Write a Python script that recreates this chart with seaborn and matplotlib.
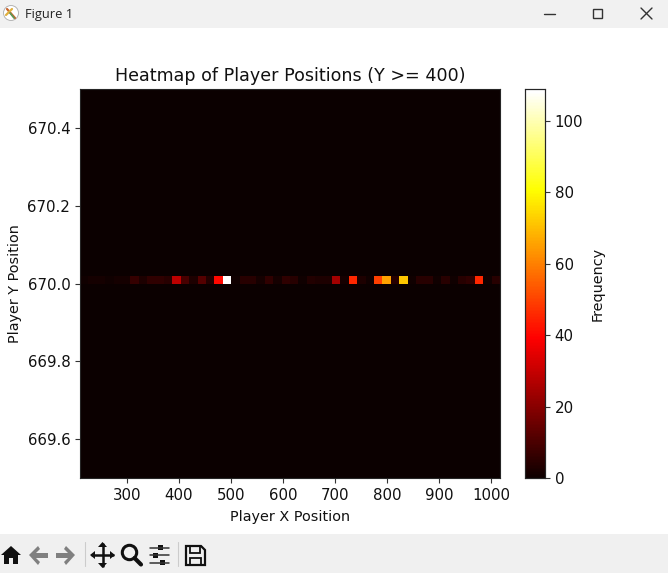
import numpy as np
import pandas as pd
import matplotlib
matplotlib.use("Agg")
import matplotlib.pyplot as plt
from matplotlib.patches import Circle, Polygon, Rectangle
import seaborn as sns

# counts per x bin, all of them in the single row at y = 670
frequency = [1, 2, 2, 1, 2, 2, 7, 3, 6, 6,
             5, 29, 10, 3, 12, 4, 41, 109, 1, 5,
             5, 2, 6, 2, 6, 5, 1, 4, 3, 3,
             25, 2, 46, 3, 1, 50, 66, 5, 72, 1,
             5, 5, 1, 5, 1, 5, 6, 46, 1, 5]
player_y = 670.0
x_range = (210, 1017)
y_range = (669.5, 670.5)
x_ticks = [300, 400, 500, 600, 700, 800, 900, 1000]
y_ticks = [669.6, 669.8, 670.0, 670.2, 670.4]
cbar_ticks = [0, 20, 40, 60, 80, 100]

W, H = 668, 573
edges = np.linspace(x_range[0], x_range[1], len(frequency) + 1)
df = pd.DataFrame({
    "x": (edges[:-1] + edges[1:]) / 2,
    "y": player_y,
    "count": frequency,
})

sns.set_style("ticks")
plt.rcParams["font.family"] = "DejaVu Sans"
plt.rcParams["text.color"] = "#111111"
plt.rcParams["axes.labelcolor"] = "#111111"
plt.rcParams["xtick.labelcolor"] = "#111111"
plt.rcParams["ytick.labelcolor"] = "#111111"

fig = plt.figure(figsize=(W / 100, H / 100), dpi=100)


def box(left, top, right, bottom):
    return [left / W, 1 - bottom / H, (right - left) / W, (bottom - top) / H]


ax = fig.add_axes(box(80, 89, 500, 478))
cax = fig.add_axes(box(525, 89, 545, 478))

sns.histplot(data=df, x="x", y="y", weights="count", bins=50,
             binrange=(x_range, y_range), thresh=None, cmap="hot",
             vmin=0, vmax=max(frequency), cbar=True, cbar_ax=cax,
             cbar_kws={"ticks": cbar_ticks}, ax=ax)
ax.set_xlim(x_range)
ax.set_ylim(y_range)
ax.set_xticks(x_ticks)
ax.set_yticks(y_ticks)
ax.set_yticklabels([f"{t:.1f}" for t in y_ticks])
ax.tick_params(labelsize=10.8, length=3.5, width=0.8, color="#333333")
cax.tick_params(labelsize=10.8, length=3.5, width=0.8, color="#333333")
ax.set_title("Heatmap of Player Positions (Y >= 400)", fontsize=12.6, pad=6)
ax.set_xlabel("Player X Position", fontsize=10.4, labelpad=5.5)
ax.set_ylabel("Player Y Position", fontsize=10.4, labelpad=4)
cax.set_ylabel("Frequency", fontsize=10.4, labelpad=5)
for spine in ax.spines.values():
    spine.set_visible(True)
    spine.set_linewidth(0.8)
cax.collections[-1].set_edgecolor("face")
for spine in cax.spines.values():
    spine.set_visible(True)
    spine.set_linewidth(0.8)

# window frame around the plot, in pixel coordinates
ui = fig.add_axes([0, 0, 1, 1], zorder=-1)
ui.set_xlim(0, W)
ui.set_ylim(H, 0)
ui.axis("off")
ui.add_patch(Rectangle((0, 0), W, 28, color="#f1f1f1", lw=0))
ui.add_patch(Rectangle((0, 534), W, 39, color="#f0f0f0", lw=0))
ui.text(25, 14.5, "Figure 1", fontsize=9.3, va="center", color="#222222",
        family="Open Sans")

# app icon
ui.add_patch(Circle((11, 13), 7.5, fc="white", ec="#b5b5b5", lw=0.7))
ui.plot([7, 15], [9, 18], color="#c8632c", lw=1.6)
ui.plot([6, 12], [15, 9], color="#e0b040", lw=1.6)
ui.plot([10, 14], [13, 18], color="#5a9a58", lw=1.2)

# window buttons
ui.plot([544, 555], [13.5, 13.5], color="#333333", lw=1)
ui.add_patch(Rectangle((592.5, 8.5), 9.5, 9.5, fc="none", ec="#333333", lw=1))
ui.plot([641, 652], [8, 19], color="#333333", lw=1)
ui.plot([641, 652], [19, 8], color="#333333", lw=1)

# toolbar icons
ink = "#111111"
grey = "#808080"
ui.add_patch(Polygon([(1, 555), (11, 546), (21, 555), (18, 555), (18, 564),
                      (13, 564), (13, 558), (9, 558), (9, 564), (4, 564), (4, 555)],
                     fc=ink, lw=0))
ui.add_patch(Polygon([(29, 555), (38, 546), (40, 549), (36, 553), (48, 553),
                      (48, 558), (36, 558), (40, 562), (38, 565)], fc=grey, lw=0))
ui.add_patch(Polygon([(75, 555), (66, 546), (64, 549), (68, 553), (56, 553),
                      (56, 558), (68, 558), (64, 562), (66, 565)], fc=grey, lw=0))
ui.plot([84.5, 84.5], [542, 566], color="#cccccc", lw=0.8)
ui.plot([92, 113], [555, 555], color=ink, lw=1.8)
ui.plot([102.5, 102.5], [544, 566], color=ink, lw=1.8)
for tip, a, b in [((90, 555), (95, 551), (95, 559)), ((115, 555), (110, 551), (110, 559)),
                  ((102.5, 542), (98, 547), (107, 547)), ((102.5, 568), (98, 563), (107, 563))]:
    ui.add_patch(Polygon([tip, a, b], fc=ink, lw=0))
ui.add_patch(Circle((129.5, 552.5), 7.2, fc="none", ec=ink, lw=2.2))
ui.plot([134.5, 141], [558, 564.5], color=ink, lw=3)
for y, x in [(547.5, 160), (555, 155), (562.5, 162)]:
    ui.plot([150, 169], [y, y], color="#333333", lw=1.1)
    ui.add_patch(Rectangle((x - 2.5, y - 2.5), 5, 5, color=ink, lw=0))
ui.plot([177.5, 177.5], [542, 566], color="#cccccc", lw=0.8)
ui.add_patch(Polygon([(186, 546), (201, 546), (205, 550), (205, 565), (186, 565)],
                     fc="none", ec=ink, lw=1.6))
ui.add_patch(Rectangle((190, 546), 10, 6.5, fc="none", ec=ink, lw=1.3))
ui.add_patch(Rectangle((190, 558), 11, 7, fc="none", ec=ink, lw=1.3))

fig.savefig("out.png", dpi=100)
